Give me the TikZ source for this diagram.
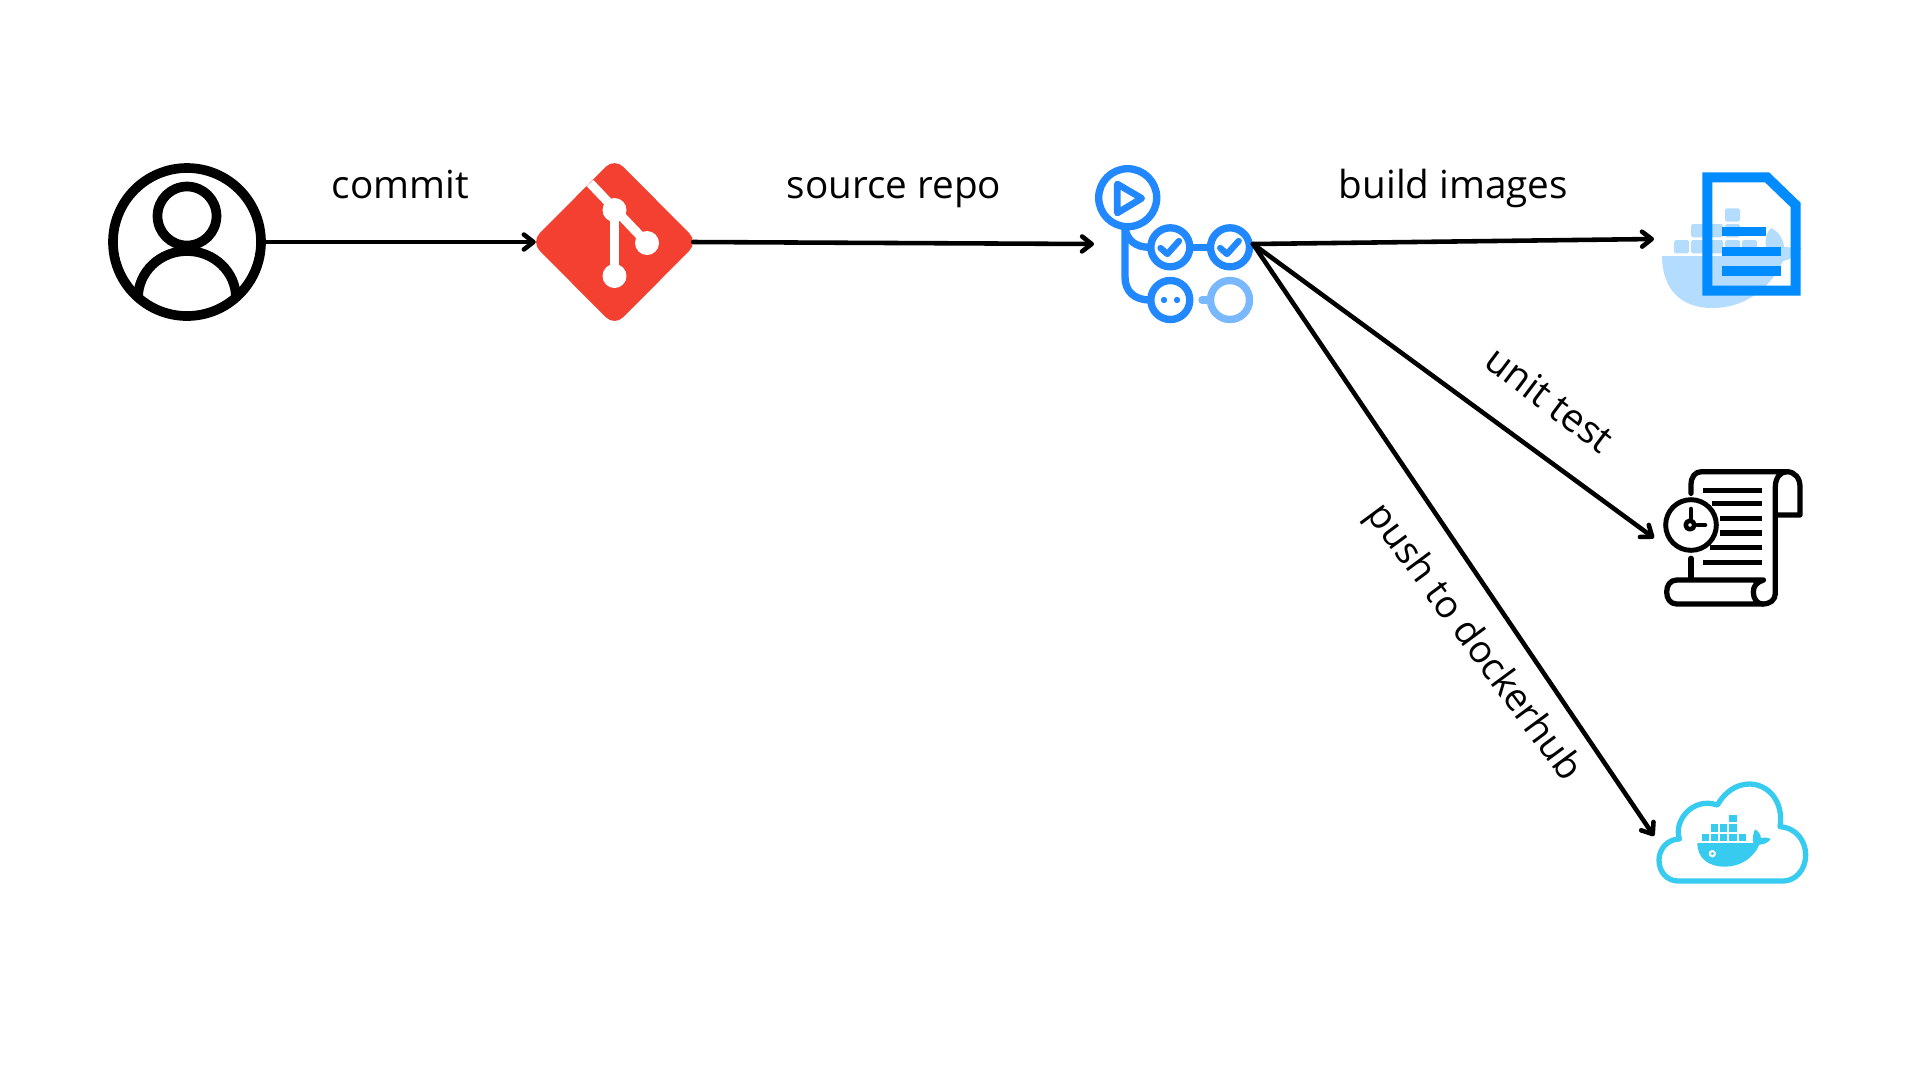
\documentclass[tikz,border=0pt]{standalone}
\usepackage{fontspec}
\setmainfont{Open Sans}
\usetikzlibrary{arrows.meta}
\definecolor{gitred}{HTML}{F34030}
\definecolor{ghblue}{HTML}{2188FF}
\definecolor{ghlight}{HTML}{79B8FF}
\definecolor{docblue}{HTML}{008CFF}
\definecolor{whale}{HTML}{B3DCFF}
\definecolor{hubblue}{HTML}{38CBF0}
\tikzset{
  x=0.02cm,y=-0.02cm,
  icon/.style={inner sep=0pt,outer sep=0pt,minimum width=91pt,minimum height=91pt},
  flow/.style={line width=2.6pt,line cap=round,-{Straight Barb[length=5.5pt,width=8.5pt,line width=2.6pt,round]}},
  lbl/.style={font=\fontsize{22}{26}\selectfont,text=black,inner sep=0pt,anchor=base},
  ghline/.style={draw=ghblue,line width=4.2pt,line cap=round,line join=round},
  logline/.style={draw=black,line width=3pt,line cap=round,line join=round},
  zoomed/.style={shift={(#1)},scale=1/3}
}
\begin{document}
\begin{tikzpicture}
\useasboundingbox (0,0) rectangle (1920,1080);
\fill[white] (0,0) rectangle (1920,1080);

% user
\begin{scope}[line width=5.5pt,draw=black]
\draw (187,242) circle[radius=74];
\draw (187,216) circle[radius=29.5];
\draw (138,298) arc[start angle=180,end angle=0,x radius=49,y radius=-47];
\end{scope}
\node[icon,minimum width=90pt] (user) at (187,242) {};

% git
\fill[gitred,rounded corners=7pt] (614.5,158) -- (698,242) -- (614.5,326) -- (531,242) -- cycle;
\begin{scope}[white]
\fill (614.5,210) circle[radius=12];
\fill (647,243) circle[radius=12];
\fill (614.5,276) circle[radius=12];
\draw[line width=5.2pt] (614.5,210) -- (614.5,276);
\draw[line width=5.2pt] (590,183) -- (647,243);
\end{scope}
\node[icon,minimum width=89.6pt] (git) at (614.5,242) {};

% actions
\draw[ghline] (1127.7,197.7) circle[radius=29];
\draw[ghline,line width=3.8pt] (1117.3,184) -- (1141.7,198.3) -- (1117.3,213) -- cycle;
\draw[ghline] (1170.3,247.3) circle[radius=19.5];
\draw[ghline] (1230,247.3) circle[radius=19.5];
\draw[ghline] (1170.3,300) circle[radius=19.5];
\draw[ghlight,line width=4.2pt] (1230,300) circle[radius=19.5];
\draw[ghline] (1125,228) -- (1125,277) .. controls (1125,292) and (1135,300) .. (1150,300);
\draw[ghline] (1125,228) .. controls (1127,240) and (1135,247.3) .. (1150,247.3);
\draw[ghline] (1190,247.3) -- (1210,247.3);
\draw[ghlight,line width=4.2pt,line cap=round] (1202,300) -- (1209,300);
\draw[ghline,line width=3.6pt] (1160.5,248) -- (1167.3,254) -- (1179,241);
\draw[ghline,line width=3.6pt] (1220.2,248) -- (1227,254) -- (1238.7,241);
\fill[ghblue] (1164,300) circle[radius=3.2] (1177,300) circle[radius=3.2];
\node[icon,minimum width=90.5pt] (actions) at (1173.5,244) {};

% build images
\fill[whale] (1662,256) -- (1768,256) .. controls (1764,243) and (1765,234) .. (1771,228)
  .. controls (1778,231) and (1783,238) .. (1784,247) -- (1802,248)
  .. controls (1795,256) and (1790,260) .. (1783,261)
  .. controls (1768,292) and (1742,308) .. (1712,308)
  .. controls (1680,308) and (1662,288) .. (1662,256) -- cycle;
\begin{scope}[whale,rounded corners=1pt]
\fill (1725,208.3) rectangle (1740,221.7);
\foreach \xa in {1691,1708,1725}{\fill (\xa,224) rectangle ++(15,13.3);}
\foreach \xa in {1674,1691,1708,1725,1742}{\fill (\xa,240) rectangle ++(15,13.3);}
\end{scope}
\draw[docblue,line width=5.7pt,line join=miter] (1707.3,177.3) -- (1767,177.3) -- (1795.7,205) -- (1795.7,290.7) -- (1707.3,290.7) -- cycle;
\fill[docblue] (1722,227) rectangle (1766,236.3);
\fill[docblue] (1722,246.7) rectangle (1781,256);
\fill[docblue] (1722,266.3) rectangle (1781,275.7);
\node[icon,anchor=west] (build) at (1654,239) {};

% log
\begin{scope}[zoomed={1640,455}]
\draw[logline] (153,115) -- (153,90) .. controls (153,65) and (165,50) .. (185,50) -- (440,50)
  .. controls (465,50) and (480,70) .. (480,95) -- (480,180) -- (410,180);
\draw[logline] (440,50) .. controls (420,50) and (406,70) .. (406,95) -- (406,415)
  .. controls (406,435) and (390,447) .. (368,447);
\draw[logline] (153,310) -- (153,372);
\draw[logline] (370,375) -- (110,375) .. controls (90,375) and (80,392) .. (80,411)
  .. controls (80,430) and (90,447) .. (110,447) -- (368,447)
  .. controls (350,447) and (340,430) .. (340,411) .. controls (340,392) and (350,382) .. (370,375);
\foreach \ya/\xa in {107/190,145/215,190/240,234/240,278/210,322/190}{
  \draw[logline,line cap=butt] (\xa,\ya) -- (367,\ya);}
\draw[logline,line width=2.8pt] (153,210) circle[radius=76];
\draw[logline,line width=2.6pt] (150,210) circle[radius=13];
\draw[logline,line width=2.6pt] (153,162) -- (153,190);
\draw[logline,line width=2.6pt] (172,210) -- (195,210);
\end{scope}
\node[icon,anchor=west] (test) at (1654,538) {};

% docker hub
\begin{scope}[zoomed={1640,770}]
\draw[hubblue,line width=3pt,line join=round] (115,333)
  .. controls (80,333) and (57,305) .. (57,270)
  .. controls (57,235) and (85,207) .. (118,207)
  .. controls (100,150) and (160,80) .. (232,105)
  .. controls (255,65) and (290,42) .. (328,42)
  .. controls (385,42) and (432,95) .. (420,170)
  .. controls (465,172) and (497,210) .. (497,255)
  .. controls (497,300) and (465,333) .. (430,333) -- cycle;
\fill[hubblue] (172,219) -- (340,219) .. controls (337,205) and (339,190) .. (345,178)
  .. controls (355,183) and (362,193) .. (363,205)
  .. controls (372,200) and (385,203) .. (392,207)
  .. controls (385,218) and (370,224) .. (358,224)
  .. controls (340,265) and (300,290) .. (255,290)
  .. controls (205,290) and (172,265) .. (172,219) -- cycle;
\foreach \xa/\ya in {268/135,213/163,240/163,268/163,186/191,213/191,240/191,268/191,296/191}{
  \fill[hubblue] (\xa,\ya) rectangle ++(22,22);}
\fill[white] (217,251) circle[radius=11];
\fill[hubblue] (217,251) circle[radius=5];
\end{scope}
\node[icon,anchor=west] (hub) at (1654,836) {};

% connectors
\draw[flow] (user.east) -- (git.west);
\draw[flow] (git.east) -- (actions.west);
\draw[flow] (actions.east) -- (build.west);
\draw[flow] (actions.east) -- (test.west);
\draw[flow] (actions.east) -- (hub.west);

% labels
\node[lbl] (l1) at (400.5,198) {commit};
\node[lbl] (l2) at (894,198) {source repo};
\node[lbl] (l3) at (1453.5,198) {build images};
\node[lbl,anchor=center,rotate=-37] (l4) at (1550,399) {unit test};
\node[lbl,anchor=center,rotate=-53.5,font=\fontsize{21.6}{26}\selectfont] (l5) at (1473,643) {push to dockerhub};
\end{tikzpicture}
\end{document}
